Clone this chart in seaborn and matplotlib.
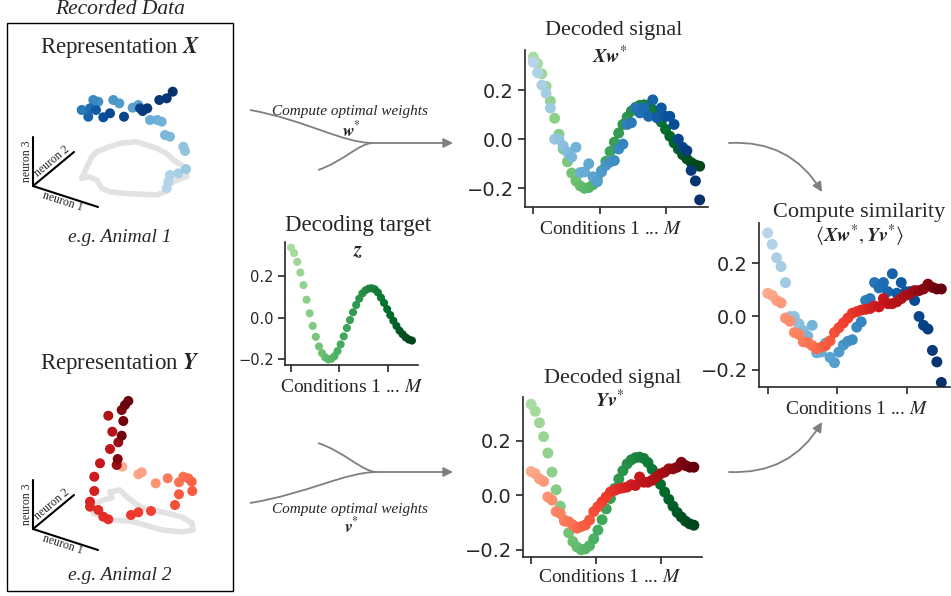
import numpy as np
import matplotlib
matplotlib.use("Agg")
import matplotlib.pyplot as plt
import seaborn as sns
from matplotlib.colors import ListedColormap
from matplotlib.patches import PathPatch, Rectangle
from matplotlib.path import Path

# decoding target z and the two decoded signals, one value per condition
target_z = [0.334, 0.308, 0.266, 0.215, 0.155, 0.085, 0.02, -0.04, -0.092, -0.138,
            -0.17, -0.19, -0.2, -0.197, -0.185, -0.16, -0.128, -0.09, -0.05, -0.012,
            0.025, 0.06, 0.09, 0.115, 0.13, 0.138, 0.14, 0.135, 0.12, 0.095,
            0.07, 0.04, 0.012, -0.015, -0.04, -0.063, -0.08, -0.095, -0.105, -0.11]
decoded_xw = [0.313, 0.27, 0.22, 0.187, 0.127, 0.0, 0.0, -0.027, -0.053, -0.073,
              -0.033, -0.136, -0.133, -0.10, -0.153, -0.173, -0.133, -0.107, -0.093, -0.087,
              -0.04, -0.02, 0.06, 0.067, 0.127, 0.107, 0.127, 0.093, 0.16, 0.087,
              0.127, 0.093, 0.093, 0.06, 0.0, -0.033, -0.047, -0.127, -0.17, -0.247]
decoded_yv = [0.087, 0.079, 0.06, 0.051, -0.006, -0.018, -0.06, -0.067, -0.095, -0.097,
              -0.109, -0.121, -0.115, -0.109, -0.091, -0.06, -0.042, -0.024, -0.006, 0.012,
              0.018, 0.024, 0.027, 0.03, 0.039, 0.036, 0.067, 0.048, 0.048, 0.055,
              0.067, 0.079, 0.085, 0.097, 0.097, 0.103, 0.121, 0.109, 0.103, 0.103]
conditions = np.linspace(0, 2.5, len(target_z))

# schematic 2D projections of the recorded population activity (screen-like units)
rep_x_h = [166.7, 168.3, 170, 178.3, 186, 185, 183.3, 170, 165, 161.7, 157.3, 150, 138.3, 132.7,
           119.3, 113.3, 98.3, 93.3, 81.7, 90, 88.3, 96, 103.3, 110, 124, 140, 142.7, 147.3,
           159.3, 166.7, 172.7]
rep_x_v = [188.3, 181.7, 175, 173.3, 169, 151, 146.7, 136.7, 135, 121.7, 120, 120, 105, 107.7,
           103.3, 100, 101.7, 100, 110, 108.3, 116.7, 110, 117.3, 113.3, 116.7, 108.3, 111, 108.3,
           100, 98.3, 91.7]
rep_x_shade = [0.30, 0.31, 0.32, 0.35, 0.38, 0.40, 0.41, 0.45, 0.46, 0.48, 0.49, 0.50, 0.55, 0.56,
               0.58, 0.60, 0.63, 0.66, 0.72, 0.76, 0.80, 0.84, 0.88, 0.90, 0.92, 0.94, 0.95, 0.96,
               0.97, 0.98, 1.0]
rep_y_h = [122.3, 138.3, 141.7, 155.7, 167.7, 179, 183.3, 188.3, 191.7, 192.3, 179, 175, 151,
           138.3, 131, 108.3, 103.3, 98.3, 90, 90, 94.3, 94.3, 100, 110, 112.3, 108.3, 116.7,
           117.7, 118.3, 121.7, 123.3, 121.7, 125, 128.3]
rep_y_v = [466.7, 474.3, 472.3, 483.3, 478.3, 482.3, 476.7, 478.3, 481.7, 491, 494.3, 505, 511,
           512.3, 515, 519.3, 516.7, 510, 506.7, 501.7, 491, 476.7, 463.3, 449, 431.7, 415.7, 465,
           459, 442.3, 435.7, 421, 410, 405, 401]
rep_y_shade = [0.30, 0.32, 0.33, 0.37, 0.45, 0.47, 0.48, 0.50, 0.52, 0.54, 0.55, 0.57, 0.60,
               0.62, 0.63, 0.66, 0.67, 0.68, 0.69, 0.70, 0.72, 0.74, 0.77, 0.80, 0.82, 0.84, 0.90,
               0.95, 0.90, 0.97, 0.98, 0.95, 1.0, 1.0]
loop_x_h = [81.7, 91.7, 96.7, 110, 120, 136.7, 146.7, 156.7, 166.7, 173.3, 181.7, 186.7, 186.7,
            176.7, 168.3, 165, 156.7, 143.3, 123.3, 110, 101.7, 96.7, 88.3, 81.7]
loop_x_v = [178.3, 156.7, 151.7, 146.7, 143.3, 141.7, 145, 148.3, 153.3, 160, 165, 170, 176.7,
            180, 185, 191.7, 195, 194.3, 193.3, 191.7, 188.3, 180, 176.7, 178.3]
loop_y_h = [110, 120, 128, 142, 162, 182, 192, 193, 182, 162, 145, 130, 110, 93, 92, 103, 112, 110]
loop_y_v = [492, 490, 498, 508, 512, 517, 523, 530, 532, 530, 525, 521, 520, 513, 506, 500, 498, 492]

W, H = 951, 596
GRAY = "#7f7f7f"
SERIF = "Liberation Serif"

sns.set_theme(style="ticks")
plt.rcParams["font.family"] = ["DejaVu Sans"]
plt.rcParams["mathtext.fontset"] = "stix"
plt.rcParams["axes.linewidth"] = 1.2


def shades(name, lo):
    return ListedColormap(plt.get_cmap(name)(np.linspace(lo, 1, 256)))


greens, blues, reds = shades("Greens", 0.35), shades("Blues", 0.3), shades("Reds", 0.3)

fig = plt.figure(figsize=(W / 100, H / 100), dpi=100)
base = fig.add_axes([0, 0, 1, 1])
base.set_xlim(0, W)
base.set_ylim(H, 0)
base.axis("off")


def panel(l, t, r, b):
    ax = fig.add_axes([l / W, 1 - b / H, (r - l) / W, (b - t) / H])
    ax.set_facecolor("none")
    return ax


def signals(ax, series, size, tick_size):
    for vals, cmap in series:
        sns.scatterplot(x=conditions, y=vals, hue=conditions, palette=cmap, legend=False,
                        s=size, linewidth=0, ax=ax)
    ax.set_xticks([0, 1, 2])
    ax.set_xticklabels([])
    ax.set_yticks([-0.2, 0.0, 0.2])
    ax.tick_params(length=5, width=1.2, labelsize=tick_size, pad=3)
    ax.set_xlabel("")
    ax.set_ylabel("")
    sns.despine(ax=ax)


def label(x, y, s, size, **kw):
    base.text(x, y, s, ha="center", va="center", fontsize=size, family=SERIF, **kw)


# recorded data box
base.add_patch(Rectangle((7, 23), 226, 568, fill=False, ec="black", lw=1.0))
label(120, 10, "Recorded Data", 15.5, style="italic")
label(120, 47, r"Representation $\mathbfit{X}$", 16.5)
label(120, 363, r"Representation $\mathbfit{Y}$", 16.5)
label(120, 237, "e.g. Animal 1", 14, style="italic")
label(120, 576, "e.g. Animal 2", 14, style="italic")

base.plot(loop_x_h, loop_x_v, color="#e2e2e2", lw=4, solid_joinstyle="round", zorder=1)
base.plot(loop_y_h, loop_y_v, color="#e2e2e2", lw=4, solid_joinstyle="round", zorder=1)
sns.scatterplot(x=rep_x_h, y=rep_x_v, hue=rep_x_shade, hue_norm=(0, 1), palette="Blues",
                s=52, linewidth=0, legend=False, ax=base, zorder=2)
sns.scatterplot(x=rep_y_h, y=rep_y_v, hue=rep_y_shade, hue_norm=(0, 1), palette="Reds",
                s=52, linewidth=0, legend=False, ax=base, zorder=2)
base.set_xlim(0, W)
base.set_ylim(H, 0)

# neuron axes glyphs
for oy in (0, 343):
    base.plot([33, 33], [186 + oy, 137 + oy], color="black", lw=1.5)
    base.plot([33, 74], [186 + oy, 152 + oy], color="black", lw=1.5)
    base.plot([33, 98], [186 + oy, 207 + oy], color="black", lw=1.5)
    label(27, 161 + oy, "neuron 3", 8.5, rotation=90)
    label(52, 161 + oy, "neuron 2", 8.5, rotation=40)
    label(63, 202 + oy, "neuron 1", 8.5, rotation=-18)

# compute optimal weights arrows
for a, b, j, yt, yw, w in [((250, 110), (318, 170), (373, 143), 112, 130, "w"),
                           ((318, 443), (250, 503), (377, 472), 510, 526, "v")]:
    for s in (a, b):
        c1 = (s[0] + 0.45 * (j[0] - s[0]), s[1] + 0.3 * (j[1] - s[1]))
        c2 = (s[0] + 0.75 * (j[0] - s[0]), j[1])
        base.add_patch(PathPatch(Path([s, c1, c2, j], [Path.MOVETO, Path.CURVE4, Path.CURVE4, Path.CURVE4]),
                                 fc="none", ec=GRAY, lw=1.3))
    base.annotate("", xy=(453, j[1]), xytext=j,
                  arrowprops=dict(arrowstyle="-|>", color=GRAY, lw=1.3, mutation_scale=14,
                                  shrinkA=0, shrinkB=0))
    label(350, yt, "Compute optimal weights", 11, style="italic")
    label(352, yw, r"$\mathbfit{%s}^{*}$" % w, 12.5)

base.annotate("", xy=(822, 192), xytext=(729, 143),
              arrowprops=dict(arrowstyle="-|>", color=GRAY, lw=1.3, mutation_scale=14,
                              shrinkA=0, shrinkB=0, connectionstyle="arc3,rad=-0.3"))
base.annotate("", xy=(822, 422), xytext=(729, 472),
              arrowprops=dict(arrowstyle="-|>", color=GRAY, lw=1.3, mutation_scale=14,
                              shrinkA=0, shrinkB=0, connectionstyle="arc3,rad=0.3"))

# decoding target
ax_t = panel(285, 242, 418, 365)
signals(ax_t, [(target_z, greens)], 34, 10.5)
label(358, 226, "Decoding target", 16.5)
label(358, 252, r"$\mathbfit{z}$", 15)
label(352, 387, r"Conditions 1 ... $M$", 14)

# decoded signals
ax_x = panel(525, 50, 708, 207)
signals(ax_x, [(target_z, greens), (decoded_xw, blues)], 62, 14)
label(614, 31, "Decoded signal", 16)
label(610, 57, r"$\mathbfit{Xw}^{*}$", 14.5)
label(611, 230, r"Conditions 1 ... $M$", 14)

ax_y = panel(523, 397, 702, 557)
signals(ax_y, [(target_z, greens), (decoded_yv, reds)], 62, 14)
label(613, 379, "Decoded signal", 16)
label(610, 401, r"$\mathbfit{Yv}^{*}$", 14.5)
label(610, 578, r"Conditions 1 ... $M$", 14)

# similarity
ax_s = panel(759, 223, 950, 387)
signals(ax_s, [(decoded_xw, blues), (decoded_yv, reds)], 62, 14)
ax_s.set_ylim(-0.264, 0.35)
label(859, 212, "Compute similarity", 16)
label(860, 236, r"$\langle \mathbfit{Xw}^{*}, \mathbfit{Yv}^{*} \rangle$", 14.5)
label(857, 409, r"Conditions 1 ... $M$", 14)

fig.savefig("out.png", dpi=100)
